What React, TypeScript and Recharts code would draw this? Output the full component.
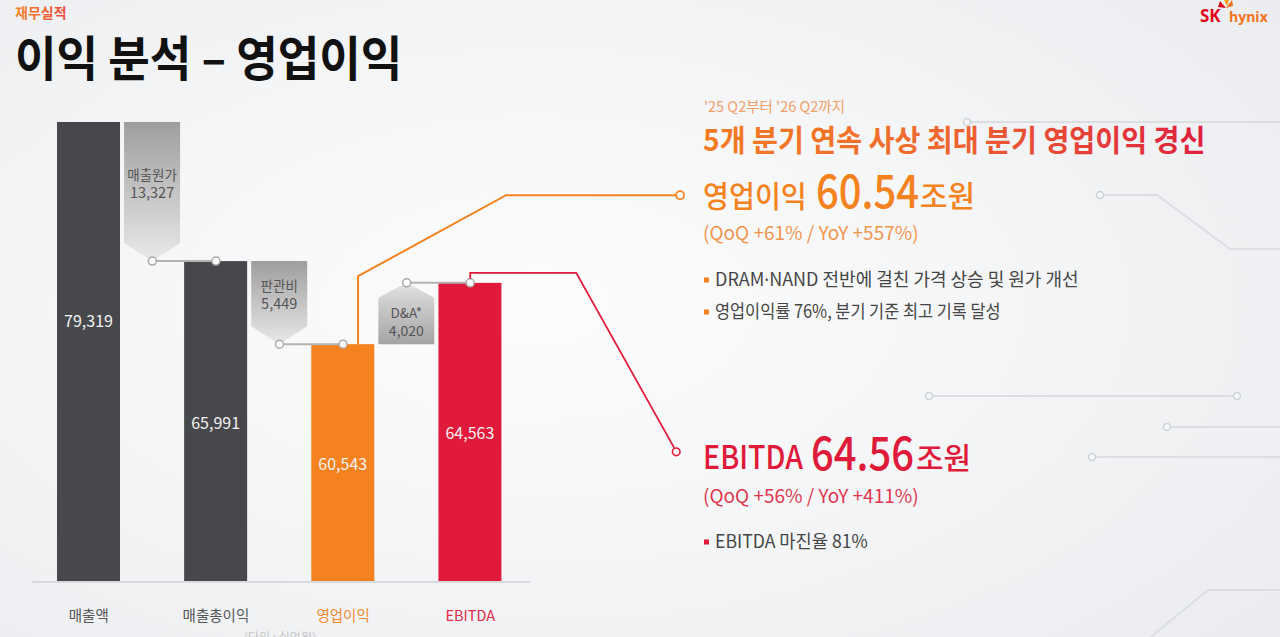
import React from 'react';
import { ComposedChart, Bar, Line, XAxis, YAxis } from 'recharts';

// ---------- data ----------
const categories = ['매출액', '매출원가', '매출총이익', '판관비', '영업이익', 'D&A*', 'EBITDA'];
const totalValues: (number | null)[] = [79319, null, 65991, null, 60543, null, 64563];
const stepRanges: ([number, number] | null)[] = [null, [65991, 79319], null, [60543, 65991], null, [60543, 64563], null];
const stepValues: (number | null)[] = [null, 13327, null, 5449, null, 4020, null];
const stepNames: string[] = ['', '매출원가', '', '판관비', '', 'D&A*', ''];
const stepDirections: (string | null)[] = [null, 'down', null, 'down', null, 'up', null];
const axisLabels: string[] = ['매출액', '', '매출총이익', '', '영업이익', '', 'EBITDA'];
const connectorA: (number | null)[] = [null, 65991, 65991, null, null, null, null];
const connectorB: (number | null)[] = [null, null, null, 60543, 60543, null, null];
const connectorC: (number | null)[] = [null, null, null, null, null, 64563, 64563];
const leaderValues: (number | null)[] = [null, null, null, null, 60543, null, 64563];
const yDomain: [number, number] = [44950, 75110];

// ---------- styles ----------
const FONT = "'Noto Sans CJK KR', 'Noto Sans', sans-serif";
const barColors = ['#47484b', '', '#47484b', '', '#f5821f', '', '#e1193a'];
const tickColors = ['#555555', '', '#555555', '', '#f08a30', '', '#e02a48'];
const ORANGE = '#f3821f';
const RED = '#e01a39';

const data = categories.map((name, i) => ({
  name,
  value: totalValues[i] !== null ? totalValues[i] : stepRanges[i],
  c1: connectorA[i],
  c2: connectorB[i],
  c3: connectorC[i],
  leader: leaderValues[i],
}));

const fmt = (v: number | null) => (v === null ? '' : v.toLocaleString('en-US'));

function WaterfallShape(props: any) {
  const { x, y, width, height, payload, background } = props;
  const i = categories.indexOf(payload.name);
  const top = Math.min(y, y + height);
  const bottom = Math.max(y, y + height);
  const plotTop = background && typeof background.y === 'number' ? background.y : top;
  const visTop = Math.max(top, plotTop);
  const cx = x + width / 2;
  const dir = stepDirections[i];
  if (!dir) {
    return (
      <g>
        <rect x={x} y={top} width={width} height={bottom - top} fill={barColors[i]} />
        <text x={cx} y={(top + bottom) / 2} textAnchor="middle" dominantBaseline="central" fill="#f2f2f2" fontSize={16} fontFamily={FONT}>
          {fmt(totalValues[i])}
        </text>
      </g>
    );
  }
  const w = 56;
  const l = cx - w / 2;
  const r = cx + w / 2;
  const gid = `stepgrad-${i}`;
  if (dir === 'down') {
    const tip = 18;
    const pts = `${l},${top} ${r},${top} ${r},${bottom - tip} ${cx},${bottom} ${l},${bottom - tip}`;
    const mid = (visTop + bottom - tip) / 2;
    return (
      <g>
        <defs>
          <linearGradient id={gid} gradientUnits="userSpaceOnUse" x1={0} y1={visTop} x2={0} y2={bottom}>
            <stop offset="0%" stopColor="#9e9e9f" />
            <stop offset="100%" stopColor="#e9e9ea" />
          </linearGradient>
        </defs>
        <polygon points={pts} fill={`url(#${gid})`} />
        <text x={cx} y={mid - 9} textAnchor="middle" dominantBaseline="central" fill="#555" fontSize={13.5} fontFamily={FONT}>{stepNames[i]}</text>
        <text x={cx} y={mid + 9} textAnchor="middle" dominantBaseline="central" fill="#555" fontSize={14.5} fontFamily={FONT}>{fmt(stepValues[i])}</text>
      </g>
    );
  }
  const tip = 15;
  const pts = `${cx},${top} ${r},${top + tip} ${r},${bottom} ${l},${bottom} ${l},${top + tip}`;
  const mid = (top + tip + bottom) / 2;
  return (
    <g>
      <defs>
        <linearGradient id={gid} gradientUnits="userSpaceOnUse" x1={0} y1={top} x2={0} y2={bottom}>
          <stop offset="0%" stopColor="#e2e2e3" />
          <stop offset="100%" stopColor="#a3a3a4" />
        </linearGradient>
      </defs>
      <polygon points={pts} fill={`url(#${gid})`} />
      <text x={cx} y={mid - 9} textAnchor="middle" dominantBaseline="central" fill="#555" fontSize={13.5} fontFamily={FONT}>{stepNames[i]}</text>
      <text x={cx} y={mid + 9} textAnchor="middle" dominantBaseline="central" fill="#555" fontSize={14} fontFamily={FONT}>{fmt(stepValues[i])}</text>
    </g>
  );
}

function CategoryTick(props: any) {
  const { x, y, payload } = props;
  const i = categories.indexOf(payload.value);
  if (i < 0 || !axisLabels[i]) return <g />;
  return (
    <text x={x} y={y + 37} textAnchor="middle" fill={tickColors[i]} fontSize={14.5} fontFamily={FONT}>
      {axisLabels[i]}
    </text>
  );
}

const connectorDot = { r: 4, fill: '#ffffff', stroke: '#a9a9a9', strokeWidth: 1.5 };

function LeaderDot(props: any) {
  const { cx, cy, payload, index } = props;
  if (cx == null || cy == null || !payload || payload.leader == null) return <g key={`ld-${index}`} />;
  const i = categories.indexOf(payload.name);
  if (i === 4) {
    const ex = cx + 337;
    const ey = cy - 149;
    return (
      <g key={`ld-${index}`}>
        <path d={`M${cx + 15},${cy} V${cy - 68} L${cx + 163},${ey} H${ex - 4}`} fill="none" stroke={ORANGE} strokeWidth={2} />
        <circle cx={ex} cy={ey} r={4} fill="#fbfbfb" stroke={ORANGE} strokeWidth={1.8} />
      </g>
    );
  }
  const ex = cx + 206;
  const ey = cy + 169;
  return (
    <g key={`ld-${index}`}>
      <path d={`M${cx},${cy - 4} V${cy - 10} H${cx + 106} L${ex - 2},${ey - 4}`} fill="none" stroke={RED} strokeWidth={1.8} />
      <circle cx={ex} cy={ey} r={3.8} fill="#fbfbfb" stroke={RED} strokeWidth={1.6} />
    </g>
  );
}

function Decorations() {
  const ln = { stroke: '#dcdee2', strokeWidth: 2, fill: 'none' };
  const dot = { r: 3.5, fill: '#f5f6f8', stroke: '#cfd2d6', strokeWidth: 1.5 };
  return (
    <svg width={1280} height={637} style={{ position: 'absolute', left: 0, top: 0 }}>
      <path d="M967,122 H1280" {...ln} />
      <circle cx={967} cy={122} {...dot} />
      <path d="M1100,195 H1157 L1230,249 H1280" {...ln} />
      <circle cx={1100} cy={195} {...dot} />
      <path d="M929,396 H1237" {...ln} />
      <circle cx={929} cy={396} {...dot} />
      <circle cx={1237} cy={396} {...dot} />
      <path d="M1167,427 H1280" {...ln} />
      <circle cx={1167} cy={427} {...dot} />
      <path d="M1092,457 H1280" {...ln} />
      <circle cx={1092} cy={457} {...dot} />
      <path d="M1147,640 L1208,590 H1280" {...ln} />
    </svg>
  );
}

function Texts() {
  return (
    <svg width={1280} height={637} style={{ position: 'absolute', left: 0, top: 0 }} fontFamily={FONT}>
      <defs>
        <linearGradient id="hdgrad" x1="0" y1="0" x2="1" y2="0">
          <stop offset="0%" stopColor="#f47b22" />
          <stop offset="45%" stopColor="#ef6a2e" />
          <stop offset="100%" stopColor="#de1f3d" />
        </linearGradient>
        <linearGradient id="secgrad" x1="0" y1="0" x2="1" y2="0">
          <stop offset="0%" stopColor="#f5852a" />
          <stop offset="100%" stopColor="#ea4a3c" />
        </linearGradient>
      </defs>
      {/* header */}
      <text x={15} y={18} fontSize={14} fontWeight={700} fill="url(#secgrad)">재무실적</text>
      <text transform="translate(15,76) scale(0.94,1)" fontSize={48} fontWeight={600} fill="#111">이익 분석 – 영업이익</text>
      {/* logo */}
      <g>
        <path d="M1220,1 L1226,8 L1218,7 Z" fill="#e2001a" />
        <path d="M1226,8 L1232,0 L1233,6 Z" fill="#f37321" />
        <path d="M1224,0 L1227,6 L1229,0 Z" fill="#f9a01b" />
        <text x={1200} y={22} fontSize={17} fontWeight={700} fill="#e2001a" fontFamily="'Open Sans', sans-serif">SK</text>
        <text x={1229} y={22} fontSize={14} fontWeight={700} fill="#f37321" fontFamily="'Open Sans', sans-serif">hynix</text>
      </g>
      {/* right side: operating profit */}
      <text x={704} y={112} fontSize={14.5} fill="#f0a06a">'25 Q2부터 '26 Q2까지</text>
      <text transform="translate(703,151) scale(0.94,1)" fontSize={30} fontWeight={700} fill="url(#hdgrad)">5개 분기 연속 사상 최대 분기 영업이익 경신</text>
      <text transform="translate(703,207) scale(0.94,1)" fontSize={30} fontWeight={500} fill={ORANGE}>영업이익</text>
      <text transform="translate(816,208) scale(0.87,1)" fontSize={46} fontWeight={500} fill={ORANGE}>60.54</text>
      <text transform="translate(920,207)" fontSize={30} fontWeight={500} fill={ORANGE}>조원</text>
      <text x={703} y={240} fontSize={19} fill="#f2954f">(QoQ +61% / YoY +557%)</text>
      <rect x={704} y={277.5} width={5} height={5} fill={ORANGE} />
      <text transform="translate(715,286) scale(1.0,1)" fontSize={18} fill="#454545">
        DRAM<tspan fontFamily="'Noto Sans', sans-serif">·</tspan>NAND 전반에 걸친 가격 상승 및 원가 개선
      </text>
      <rect x={704} y={309.5} width={5} height={5} fill={ORANGE} />
      <text transform="translate(715,318) scale(0.91,1)" fontSize={18} fill="#454545">영업이익률 76%, 분기 기준 최고 기록 달성</text>
      {/* right side: EBITDA */}
      <text transform="translate(703,469) scale(0.866,1)" fontSize={33} fontWeight={500} fill={RED}>EBITDA</text>
      <text transform="translate(811,470) scale(0.87,1)" fontSize={46} fontWeight={500} fill={RED}>64.56</text>
      <text transform="translate(916,469)" fontSize={30} fontWeight={500} fill={RED}>조원</text>
      <text x={703} y={503} fontSize={19} fill="#e0364f">(QoQ +56% / YoY +411%)</text>
      <rect x={704} y={539.5} width={5} height={5} fill={RED} />
      <text transform="translate(715,548) scale(0.98,1)" fontSize={18} fill="#454545">EBITDA 마진율 81%</text>
      {/* unit */}
      <text x={280} y={642} textAnchor="middle" fontSize={12} fill="#c4c4c4">(단위 : 십억원)</text>
    </svg>
  );
}

export default function App() {
  return (
    <div
      style={{
        position: 'absolute',
        left: 0,
        top: 0,
        width: 1280,
        height: 637,
        overflow: 'hidden',
        fontFamily: FONT,
        background: 'radial-gradient(ellipse 75% 80% at 42% 48%, #fcfcfd 0%, #f5f6f7 45%, #eaecef 100%)',
      }}
    >
      <Decorations />
      <div style={{ position: 'absolute', left: 0, top: 0 }}>
        <ComposedChart width={1280} height={637} data={data} margin={{ top: 122, right: 750, bottom: 15, left: 32 }}>
          <XAxis
            dataKey="name"
            height={40}
            padding={{ left: 25, right: 28 }}
            tickLine={false}
            tickSize={0}
            interval={0}
            axisLine={{ stroke: '#d8dadd', strokeWidth: 2 }}
            tick={CategoryTick}
          />
          <YAxis yAxisId="main" hide type="number" domain={yDomain} allowDataOverflow />
          <YAxis yAxisId="aux" hide type="number" domain={yDomain} />
          <Bar yAxisId="main" dataKey="value" barSize={63} shape={WaterfallShape} isAnimationActive={false} />
          <Line yAxisId="aux" dataKey="c1" stroke="#b3b3b3" strokeWidth={2} dot={connectorDot} activeDot={false} isAnimationActive={false} />
          <Line yAxisId="aux" dataKey="c2" stroke="#b3b3b3" strokeWidth={2} dot={connectorDot} activeDot={false} isAnimationActive={false} />
          <Line yAxisId="aux" dataKey="c3" stroke="#b3b3b3" strokeWidth={2} dot={connectorDot} activeDot={false} isAnimationActive={false} />
          <Line yAxisId="aux" dataKey="leader" stroke="none" dot={LeaderDot} activeDot={false} isAnimationActive={false} />
        </ComposedChart>
      </div>
      <Texts />
    </div>
  );
}
